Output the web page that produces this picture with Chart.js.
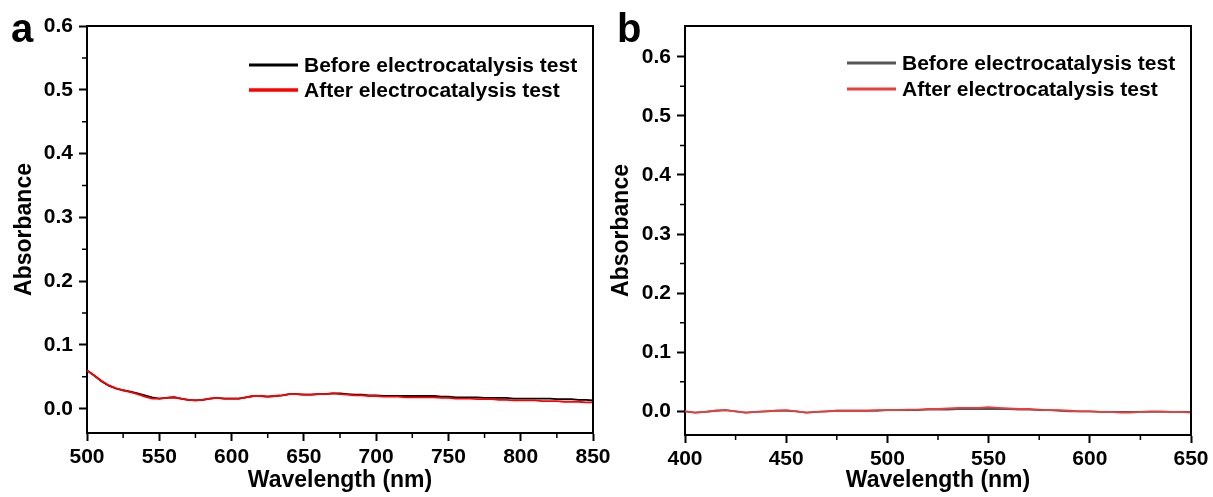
<!DOCTYPE html>
<html>
<head>
<meta charset="utf-8">
<script src="https://cdn.jsdelivr.net/npm/chart.js@4"></script>
<style>
  body { margin: 0; background: #fff; width: 1213px; height: 497px; overflow: hidden; position: relative; }
  .panel { position: absolute; top: 0; height: 497px; }
</style>
</head>
<body>
<div class="panel" style="left:0;width:623px"><canvas id="chartA" width="623" height="497"></canvas></div>
<div class="panel" style="left:600px;width:613px"><canvas id="chartB" width="613" height="497"></canvas></div>
<script>
// Panel a: 500-850 nm
const wavelengthA = [500, 505, 510, 515, 520, 525, 530, 535, 540, 545, 550, 555, 560, 565, 570, 575, 580, 585, 590, 595,
    600, 605, 610, 615, 620, 625, 630, 635, 640, 645, 650, 655, 660, 665, 670, 675, 680, 685, 690, 695,
    700, 705, 710, 715, 720, 725, 730, 735, 740, 745, 750, 755, 760, 765, 770, 775, 780, 785, 790, 795,
    800, 805, 810, 815, 820, 825, 830, 835, 840, 845, 850];
const beforeA = [0.060, 0.052, 0.043, 0.036, 0.032, 0.029, 0.027, 0.024, 0.021, 0.018, 0.016, 0.017, 0.018, 0.016, 0.014, 0.013, 0.014, 0.016, 0.017, 0.016,
    0.016, 0.016, 0.018, 0.020, 0.020, 0.019, 0.020, 0.021, 0.023, 0.023, 0.022, 0.022, 0.023, 0.023, 0.024, 0.024, 0.023, 0.022, 0.022, 0.021,
    0.021, 0.020, 0.020, 0.020, 0.020, 0.020, 0.020, 0.020, 0.020, 0.019, 0.019, 0.018, 0.018, 0.018, 0.018, 0.017, 0.017, 0.017, 0.017, 0.016,
    0.016, 0.016, 0.016, 0.016, 0.016, 0.015, 0.015, 0.015, 0.014, 0.014, 0.013];
const afterA = [0.060, 0.052, 0.044, 0.037, 0.032, 0.029, 0.026, 0.023, 0.019, 0.016, 0.016, 0.017, 0.018, 0.016, 0.014, 0.013, 0.014, 0.016, 0.017, 0.016,
    0.016, 0.016, 0.018, 0.020, 0.020, 0.019, 0.020, 0.021, 0.023, 0.023, 0.022, 0.022, 0.023, 0.023, 0.024, 0.023, 0.022, 0.021, 0.021, 0.020,
    0.020, 0.019, 0.019, 0.019, 0.018, 0.018, 0.018, 0.018, 0.018, 0.017, 0.017, 0.016, 0.016, 0.016, 0.015, 0.015, 0.015, 0.014, 0.014, 0.013,
    0.013, 0.013, 0.013, 0.012, 0.012, 0.012, 0.011, 0.011, 0.011, 0.010, 0.010];

// Panel b: 400-650 nm
const wavelengthB = [400, 405, 410, 415, 420, 425, 430, 435, 440, 445, 450, 455, 460, 465, 470, 475, 480, 485, 490, 495,
    500, 505, 510, 515, 520, 525, 530, 535, 540, 545, 550, 555, 560, 565, 570, 575, 580, 585, 590, 595,
    600, 605, 610, 615, 620, 625, 630, 635, 640, 645, 650];
const beforeB = [0.000, -0.002, -0.001, 0.001, 0.002, 0.000, -0.002, -0.001, 0.000, 0.001, 0.001, 0.000, -0.002, -0.001, 0.000, 0.001, 0.001, 0.001, 0.001, 0.001,
    0.002, 0.002, 0.002, 0.002, 0.003, 0.003, 0.003, 0.004, 0.004, 0.004, 0.004, 0.004, 0.004, 0.003, 0.003, 0.002, 0.002, 0.001, 0.000, 0.000,
    0.000, -0.001, -0.001, -0.001, -0.001, -0.001, -0.001, -0.001, -0.001, -0.001, -0.001];
const afterB = [0.000, -0.002, -0.001, 0.001, 0.002, 0.000, -0.002, -0.001, 0.000, 0.001, 0.002, 0.000, -0.002, -0.001, 0.000, 0.001, 0.001, 0.001, 0.001, 0.002,
    0.002, 0.002, 0.003, 0.003, 0.004, 0.004, 0.005, 0.006, 0.006, 0.006, 0.007, 0.006, 0.005, 0.004, 0.004, 0.003, 0.002, 0.002, 0.001, 0.000,
    0.000, -0.001, -0.001, -0.002, -0.002, -0.001, 0.000, 0.000, -0.001, -0.001, -0.002];

const legendLabels = ['Before electrocatalysis test', 'After electrocatalysis test'];
const yTicks = [0.0, 0.1, 0.2, 0.3, 0.4, 0.5, 0.6];
const yMinorTicks = [0.05, 0.15, 0.25, 0.35, 0.45, 0.55];
const xTicksA = [500, 550, 600, 650, 700, 750, 800, 850];
const xMinorA = [525, 575, 625, 675, 725, 775, 825];
const xTicksB = [400, 450, 500, 550, 600, 650];
const xMinorB = [425, 475, 525, 575, 625];

const FONT = '"Liberation Sans", Arial, sans-serif';
Chart.defaults.font.family = FONT;
Chart.defaults.font.weight = 'bold';
Chart.defaults.color = '#000';

function toPoints(xs, ys) {
    return xs.map((x, i) => ({ x: x, y: ys[i] }));
}

// top/right frame, minor ticks, panel letter and the in-plot legend
const framePlugin = {
    id: 'frame',
    afterDraw(chart, args, opts) {
        const ctx = chart.ctx, a = chart.chartArea;
        const xs = chart.scales.x, ys = chart.scales.y;
        ctx.save();
        ctx.strokeStyle = '#000';
        ctx.lineWidth = 2;
        ctx.beginPath();
        ctx.moveTo(a.left, a.top);
        ctx.lineTo(a.right, a.top);
        ctx.lineTo(a.right, a.bottom);
        ctx.stroke();

        ctx.lineWidth = 1.5;
        ctx.beginPath();
        opts.minorX.forEach(v => {
            const p = xs.getPixelForValue(v);
            ctx.moveTo(p, a.bottom);
            ctx.lineTo(p, a.bottom + 5);
        });
        opts.minorY.forEach(v => {
            const p = ys.getPixelForValue(v);
            ctx.moveTo(a.left, p);
            ctx.lineTo(a.left - 5, p);
        });
        ctx.stroke();

        ctx.fillStyle = '#000';
        ctx.font = 'bold 40px ' + FONT;
        ctx.textBaseline = 'alphabetic';
        ctx.fillText(opts.letter, opts.letterX, 42);

        ctx.font = 'bold 21px ' + FONT;
        ctx.textBaseline = 'middle';
        chart.data.datasets.forEach((ds, i) => {
            const y = opts.legendY[i];
            ctx.strokeStyle = ds.borderColor;
            ctx.lineWidth = opts.legendWidth[i];
            ctx.beginPath();
            ctx.moveTo(opts.legendX, y);
            ctx.lineTo(opts.legendX + 49, y);
            ctx.stroke();
            ctx.fillText(ds.label, opts.legendX + 55, y + 1);
        });
        ctx.restore();
    }
};

function buildChart(id, xs, before, after, cfg) {
    return new Chart(document.getElementById(id), {
        type: 'line',
        data: {
            datasets: [{
                label: legendLabels[0],
                data: toPoints(xs, before),
                borderColor: cfg.colors[0],
                borderWidth: 1.8,
                pointRadius: 0,
                order: 2
            }, {
                label: legendLabels[1],
                data: toPoints(xs, after),
                borderColor: cfg.colors[1],
                borderWidth: 1.8,
                pointRadius: 0,
                order: 1
            }]
        },
        options: {
            responsive: false,
            animation: false,
            layout: { padding: { left: 0, top: 26, right: cfg.padRight, bottom: 0 } },
            plugins: {
                legend: { display: false },
                tooltip: { enabled: false },
                frame: cfg.frame
            },
            scales: {
                x: {
                    type: 'linear',
                    min: cfg.xMin,
                    max: cfg.xMax,
                    afterFit: s => { s.height = cfg.xHeight; },
                    afterBuildTicks: s => { s.ticks = cfg.xTicks.map(v => ({ value: v })); },
                    ticks: { font: { size: 21, weight: 'bold' }, padding: 4, maxRotation: 0, autoSkip: false },
                    grid: { drawOnChartArea: false, tickLength: 8, tickWidth: 2, tickColor: '#000' },
                    border: { display: true, color: '#000', width: 2 },
                    title: { display: true, text: 'Wavelength (nm)', font: { size: 23, weight: 'bold' }, padding: { top: 0, bottom: 3 } }
                },
                y: {
                    min: cfg.yMin,
                    max: cfg.yMax,
                    afterFit: s => { s.width = cfg.yWidth; },
                    afterBuildTicks: s => { s.ticks = yTicks.map(v => ({ value: v })); },
                    ticks: { font: { size: 21, weight: 'bold' }, padding: 6, callback: v => v.toFixed(1) },
                    grid: { drawOnChartArea: false, tickLength: 8, tickWidth: 2, tickColor: '#000' },
                    border: { display: true, color: '#000', width: 2 },
                    title: { display: true, text: 'Absorbance', font: { size: 23, weight: 'bold' }, padding: { top: cfg.yTitlePad, bottom: 0 } }
                }
            }
        },
        plugins: [framePlugin]
    });
}

buildChart('chartA', wavelengthA, beforeA, afterA, {
    colors: ['#000000', '#ff0000'],
    xMin: 500, xMax: 850, yMin: -0.038, yMax: 0.6,
    xTicks: xTicksA, xHeight: 64, yWidth: 87, padRight: 30, yTitlePad: 11,
    frame: { minorX: xMinorA, minorY: yMinorTicks, letter: 'a', letterX: 11,
             legendX: 249, legendY: [65, 90], legendWidth: [3, 3.5] }
});

buildChart('chartB', wavelengthB, beforeB, afterB, {
    colors: ['#555555', '#ee3b3b'],
    xMin: 400, xMax: 650, yMin: -0.04, yMax: 0.652,
    xTicks: xTicksB, xHeight: 62, yWidth: 85, padRight: 22, yTitlePad: 8,
    frame: { minorX: xMinorB, minorY: yMinorTicks, letter: 'b', letterX: 17,
             legendX: 247, legendY: [63, 89], legendWidth: [3, 3] }
});
</script>
</body>
</html>
